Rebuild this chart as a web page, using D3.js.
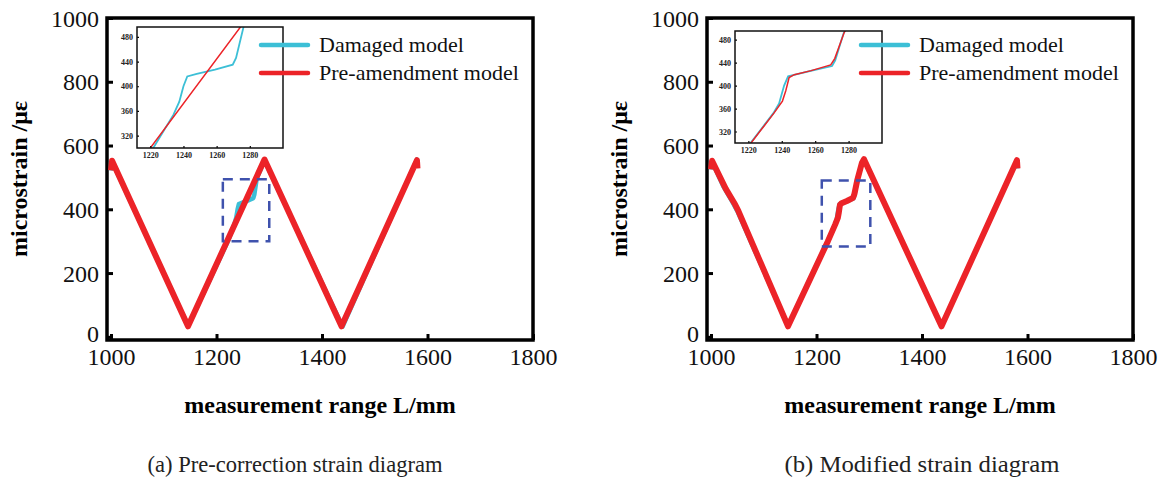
<!DOCTYPE html>
<html>
<head>
<meta charset="utf-8">
<script src="https://cdn.jsdelivr.net/npm/d3@7"></script>
<style>
  body { margin: 0; background: #fff; }
  svg, svg text { font-family: "Times New Roman", "Liberation Serif", Times, serif; }
</style>
</head>
<body>
<div id="chart"></div>
<script>
// ---- data ----
const seriesNames = ["Damaged model", "Pre-amendment model"];
const xTicks = [1000, 1200, 1400, 1600, 1800];
const yTicks = [0, 200, 400, 600, 800, 1000];
const insetXTicks = [1220, 1240, 1260, 1280];
const insetYTicks = [320, 360, 400, 440, 480];

// (a) pre-correction
const damagedA = [[1000, 522], [1002, 550], [1146, 34], [1222, 301], [1234, 354], [1237.5, 375],
  [1240, 400], [1242.3, 416], [1248, 420], [1259, 427], [1269.7, 435], [1271.7, 446],
  [1276.3, 497], [1291, 553], [1439, 32], [1580, 556], [1581, 530]];
const preA = [[1000, 522], [1002, 552], [1146, 33], [1291, 556], [1437, 33], [1580, 554], [1581, 528]];

// (b) modified
const damagedB = [[1000, 525], [1002, 550], [1024, 470], [1040, 425], [1050, 394], [1146, 34],
  [1221.3, 300], [1235, 352], [1238.4, 369], [1241.4, 400], [1243.8, 416], [1248, 419],
  [1258, 426], [1270.1, 434], [1272, 444], [1277, 491], [1286, 545], [1290, 555],
  [1437, 33], [1580, 553], [1581, 528]];
const modifiedB = [[1000, 525], [1002, 552], [1028, 464], [1046, 414], [1052, 394], [1146, 33],
  [1221.6, 300], [1235.3, 352], [1240.4, 373], [1242.4, 391], [1244.4, 414], [1247.5, 419],
  [1257.6, 426], [1269.3, 436], [1271.7, 447], [1277.2, 491], [1286, 545], [1290, 557],
  [1437, 33], [1580, 554], [1581, 528]];

const captions = ["(a) Pre-correction strain diagram", "(b) Modified strain diagram"];

const cyan = "#3cbfd6", red = "#ec2328", boxBlue = "#3f52ad";
const serif = "'Times New Roman', 'Liberation Serif', Times, serif";

const svg = d3.select("#chart").append("svg").attr("width", 1164).attr("height", 477);

function drawPanel(cfg) {
  const g = svg.append("g");
  const x = d3.scaleLinear().domain([992.4, 1800]).range([cfg.left, cfg.left + 426]);
  const y = d3.scaleLinear().domain([-10, 1000]).range([340, 18]);

  // ticks (inside) and labels
  const xAxis = d3.axisBottom(x).tickValues(xTicks).tickSize(-6).tickPadding(8).tickFormat(d3.format("d"));
  const yAxis = d3.axisLeft(y).tickValues(yTicks).tickSize(-6).tickPadding(8).tickFormat(d3.format("d"));
  const ax = g.append("g").attr("transform", "translate(0,340)").call(xAxis);
  const ay = g.append("g").attr("transform", `translate(${cfg.left},0)`).call(yAxis);
  [ax, ay].forEach(a => {
    a.attr("font-family", serif);
    a.select(".domain").remove();
    a.selectAll(".tick line").attr("stroke", "#000").attr("stroke-width", 3);
    a.selectAll(".tick text").attr("font-size", 24).attr("fill", "#111");
  });
  ay.selectAll(".tick text").attr("dy", d => d === 0 ? "0.2em" : "0.34em");

  // frame
  g.append("rect").attr("x", cfg.left).attr("y", 18).attr("width", 426).attr("height", 322)
    .attr("fill", "none").attr("stroke", "#000").attr("stroke-width", 3.5);

  // titles
  g.append("text").attr("x", cfg.left + 213).attr("y", 413).attr("text-anchor", "middle")
    .attr("font-size", 24).attr("font-weight", "bold").text("measurement range L/mm");
  g.append("text").attr("transform", `translate(${cfg.left - 80},179) rotate(-90)`)
    .attr("text-anchor", "middle").attr("font-size", 24).attr("font-weight", "bold")
    .text("microstrain /με");

  const line = d3.line().x(d => x(d[0])).y(d => y(d[1]));
  g.append("path").datum(cfg.cyanData).attr("d", line).attr("fill", "none")
    .attr("stroke", cyan).attr("stroke-width", 4.5).attr("stroke-linejoin", "round");
  g.append("path").datum(cfg.redData).attr("d", line).attr("fill", "none")
    .attr("stroke", red).attr("stroke-width", 6).attr("stroke-linejoin", "round");

  // dashed zoom box
  g.append("rect").attr("x", x(cfg.box[0])).attr("y", y(cfg.box[3]))
    .attr("width", x(cfg.box[1]) - x(cfg.box[0])).attr("height", y(cfg.box[2]) - y(cfg.box[3]))
    .attr("fill", "none").attr("stroke", boxBlue).attr("stroke-width", 2.5)
    .attr("stroke-dasharray", "10,7");

  // inset
  const ins = cfg.inset;
  const ix = d3.scaleLinear().domain([1212, 1300]).range([ins.x0, ins.x1]);
  const iy = d3.scaleLinear().domain(ins.yDom).range([ins.y1, ins.y0]);
  const ig = g.append("g");
  ig.append("rect").attr("x", ins.x0).attr("y", ins.y0).attr("width", ins.x1 - ins.x0)
    .attr("height", ins.y1 - ins.y0).attr("fill", "#fff");
  const clipId = "clip" + cfg.left;
  ig.append("clipPath").attr("id", clipId).append("rect").attr("x", ins.x0).attr("y", ins.y0)
    .attr("width", ins.x1 - ins.x0).attr("height", ins.y1 - ins.y0);
  const iline = d3.line().x(d => ix(d[0])).y(d => iy(d[1]));
  ig.append("path").datum(cfg.cyanData).attr("d", iline).attr("fill", "none")
    .attr("clip-path", `url(#${clipId})`).attr("stroke", cyan).attr("stroke-width", 1.8);
  ig.append("path").datum(cfg.redData).attr("d", iline).attr("fill", "none")
    .attr("clip-path", `url(#${clipId})`).attr("stroke", red).attr("stroke-width", 1.5);
  const ixa = ig.append("g").attr("transform", `translate(0,${ins.y1})`)
    .call(d3.axisBottom(ix).tickValues(insetXTicks).tickSize(-2).tickPadding(4).tickFormat(d3.format("d")));
  const iya = ig.append("g").attr("transform", `translate(${ins.x0},0)`)
    .call(d3.axisLeft(iy).tickValues(insetYTicks).tickSize(-2).tickPadding(4).tickFormat(d3.format("d")));
  [ixa, iya].forEach(a => {
    a.attr("font-family", serif);
    a.select(".domain").remove();
    a.selectAll(".tick line").attr("stroke", "#000").attr("stroke-width", 1.2);
    a.selectAll(".tick text").attr("font-size", 8).attr("font-weight", "bold").attr("fill", "#222");
  });
  ig.append("rect").attr("x", ins.x0).attr("y", ins.y0).attr("width", ins.x1 - ins.x0)
    .attr("height", ins.y1 - ins.y0).attr("fill", "none").attr("stroke", "#111").attr("stroke-width", 1.5);

  // legend
  const lg = g.append("g");
  [cyan, red].forEach((c, i) => {
    const ly = 45 + i * 28;
    lg.append("line").attr("x1", cfg.left + 154).attr("x2", cfg.left + 201)
      .attr("y1", ly).attr("y2", ly).attr("stroke", c).attr("stroke-width", 4.5).attr("stroke-linecap", "round");
    lg.append("text").attr("x", cfg.left + 212).attr("y", ly + 7).attr("font-size", 22)
      .attr("fill", "#111").text(seriesNames[i]);
  });

  // caption
  svg.append("text").attr("x", cfg.capX).attr("y", 472).attr("text-anchor", "middle")
    .attr("font-size", 24).attr("fill", "#222")
    .attr("textLength", cfg.capLen).attr("lengthAdjust", "spacingAndGlyphs").text(cfg.caption);
}

drawPanel({
  left: 107, cyanData: damagedA, redData: preA,
  box: [1212, 1300, 300, 494],
  inset: {x0: 137, x1: 283, y0: 27, y1: 148, yDom: [300, 496]},
  caption: captions[0], capX: 295, capLen: 295
});
drawPanel({
  left: 707, cyanData: damagedB, redData: modifiedB,
  box: [1210, 1302, 283, 490],
  inset: {x0: 735, x1: 882, y0: 31, y1: 143, yDom: [300, 495]},
  caption: captions[1], capX: 922, capLen: 275
});
</script>
</body>
</html>
